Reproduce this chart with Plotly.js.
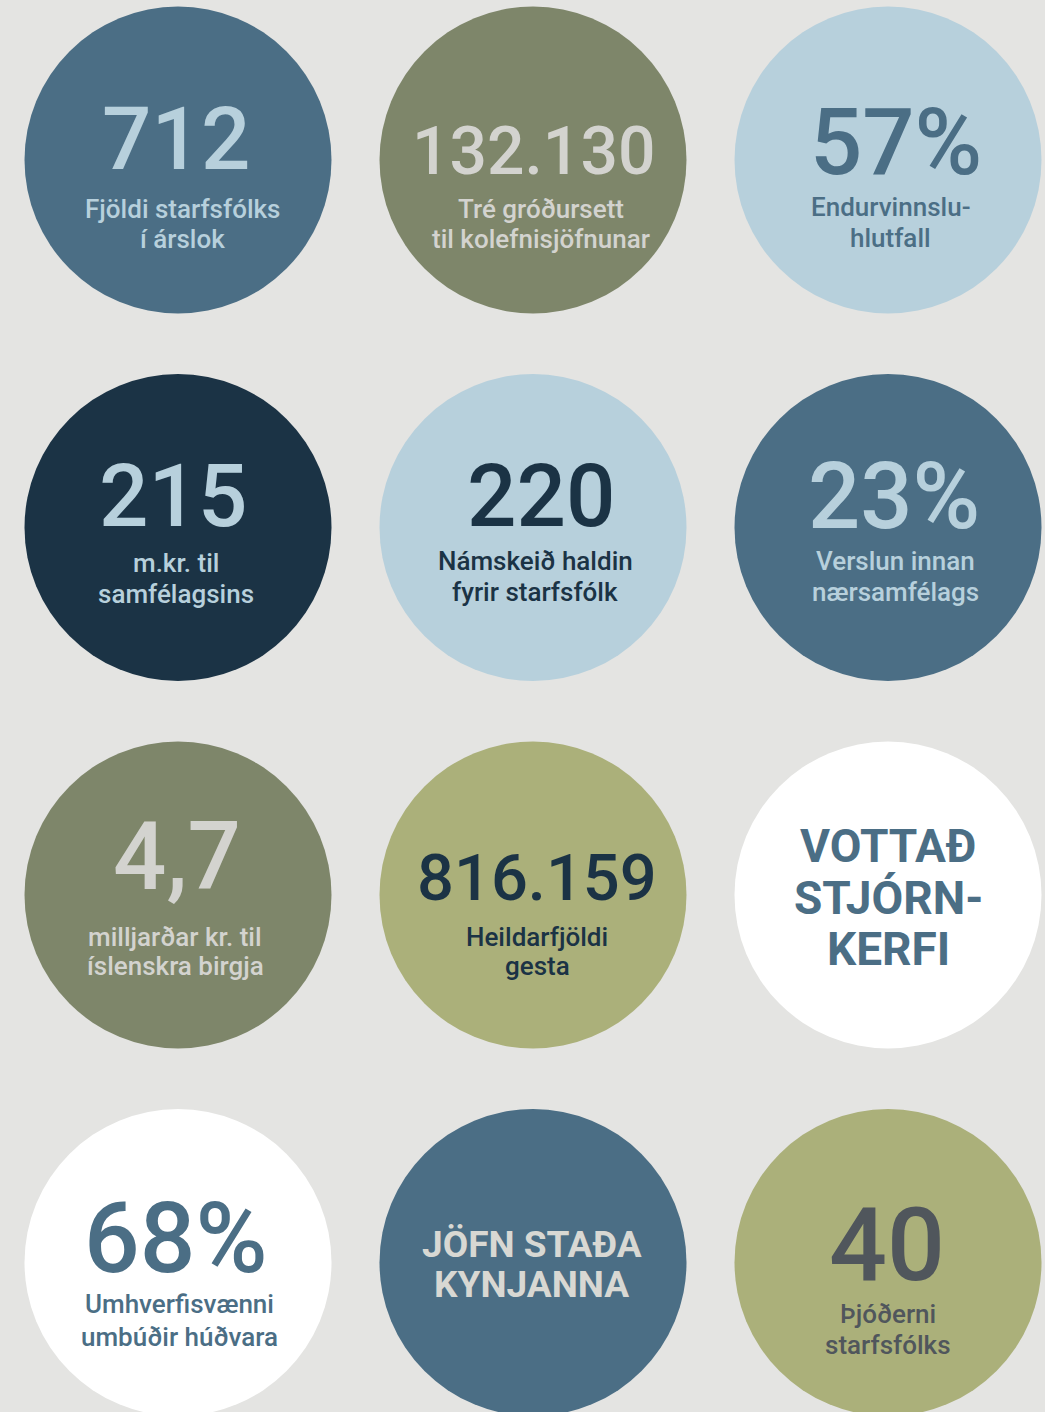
<!DOCTYPE html>
<html>
<head>
<meta charset="utf-8">
<script src="https://cdn.plot.ly/plotly-3.0.1.min.js"></script>
<style>
  html, body { margin: 0; padding: 0; background: #e4e4e2; }
  #chart { width: 1045px; height: 1412px; }
</style>
</head>
<body>
<div id="chart"></div>
<script>
// ---- data ----
const figures = ["712", "132.130", "57%", "215", "220", "23%", "4,7", "816.159", "", "68%", "", "40"];
const headings = ["", "", "", "", "", "", "", "", "VOTTAÐ|STJÓRN-|KERFI", "", "JÖFN STAÐA|KYNJANNA", ""];
const captions = [
  "Fjöldi starfsfólks|í árslok",
  "Tré gróðursett|til kolefnisjöfnunar",
  "Endurvinnslu-|hlutfall",
  "m.kr. til|samfélagsins",
  "Námskeið haldin|fyrir starfsfólk",
  "Verslun innan|nærsamfélags",
  "milljarðar kr. til|íslenskra birgja",
  "Heildarfjöldi|gesta",
  "",
  "Umhverfisvænni|umbúðir húðvara",
  "",
  "Þjóðerni|starfsfólks"
];

// ---- styles ----
const STEEL = "#4b6e85", OLIVE = "#7e866a", LIGHT = "#b7d0dc", NAVY = "#1b3345",
      KHAKI = "#abb07a", WHITE = "#ffffff", PALE = "#d3d3cf", GREY = "#50565c";
const circleColors = [STEEL, OLIVE, LIGHT, NAVY, LIGHT, STEEL, OLIVE, KHAKI, WHITE, WHITE, STEEL, KHAKI];
const inkColors    = [LIGHT, PALE, STEEL, LIGHT, NAVY, LIGHT, PALE, NAVY, STEEL, STEEL, "#d8d8d3", GREY];
const figureSizes  = [87, 66, 92, 87, 87, 92, 94, 65, 0, 98, 0, 102];
const figureShifts = [21, 8.5, 18, 31.5, 31.5, 31.5, 38, 17, 0, 24.5, 0, 18];
const figureXShifts = [-2, 0, 8, -5, 8, 6, -1, 4, 0, -2, 0, -1];
const captionBaselines = [[58, 88], [58, 88], [56, 87], [44.5, 75.5], [42.5, 73.5], [42.5, 73.5],
                          [51, 79.5], [51, 79.5], [], [50.5, 83.5], [], [60.5, 91.5]];
const captionXShifts = [4, 8, 2, -2, 2, 7, -3, 4, 0, 1, 0, 0];
const CAPTION_SIZE = 26;
const headingSizes = [0, 0, 0, 0, 0, 0, 0, 0, 46, 0, 37, 0];
const headingShifts = [[], [], [], [], [], [], [], [], [49.5, -2.5, -53.5], [], [18.5, -22], []];
const headingXShifts = [0, 0, 0, 0, 0, 0, 0, 0, 0, 0, -1.5, 0];
const COLS = 3;
const FONT = "Roboto, 'Noto Sans', sans-serif";

const xs = figures.map((_, i) => i % COLS);
const ys = figures.map((_, i) => Math.floor(i / COLS));

const annotations = [];
figures.forEach((f, i) => {
  if (f) {
    annotations.push({
      x: xs[i], y: ys[i], xref: "x", yref: "y", text: f, showarrow: false,
      xanchor: "center", yanchor: "middle", yshift: figureShifts[i], xshift: figureXShifts[i],
      font: { family: FONT, size: figureSizes[i], color: inkColors[i], weight: 500 }
    });
  }
  if (captions[i]) {
    captions[i].split("|").forEach((line, k) => {
      annotations.push({
        x: xs[i], y: ys[i], xref: "x", yref: "y", text: line, showarrow: false,
        xanchor: "center", yanchor: "middle",
        yshift: -(captionBaselines[i][k] - 0.328 * CAPTION_SIZE), xshift: captionXShifts[i],
        font: { family: FONT, size: CAPTION_SIZE, color: inkColors[i], weight: 500 }
      });
    });
  }
  if (headings[i]) {
    headings[i].split("|").forEach((line, k) => {
      annotations.push({
        x: xs[i], y: ys[i], xref: "x", yref: "y", text: line, showarrow: false,
        xanchor: "center", yanchor: "middle", yshift: headingShifts[i][k], xshift: headingXShifts[i],
        font: { family: FONT, size: headingSizes[i], color: inkColors[i], weight: 700 }
      });
    });
  }
});

const trace = {
  type: "scatter", mode: "markers", x: xs, y: ys,
  marker: { size: 307, color: circleColors, line: { width: 0 }, opacity: 1 },
  hoverinfo: "skip", cliponaxis: false
};

const layout = {
  width: 1045, height: 1412,
  margin: { l: 0, r: 0, t: 0, b: 0, pad: 0 },
  paper_bgcolor: "#e4e4e2", plot_bgcolor: "#e4e4e2",
  showlegend: false,
  xaxis: { range: [-178 / 355, (1045 - 178) / 355], visible: false, fixedrange: true },
  yaxis: { range: [(1412 - 160) / 367.5, -160 / 367.5], visible: false, fixedrange: true },
  annotations: annotations
};

Plotly.newPlot("chart", [trace], layout, { displayModeBar: false, staticPlot: true });
</script>
</body>
</html>
